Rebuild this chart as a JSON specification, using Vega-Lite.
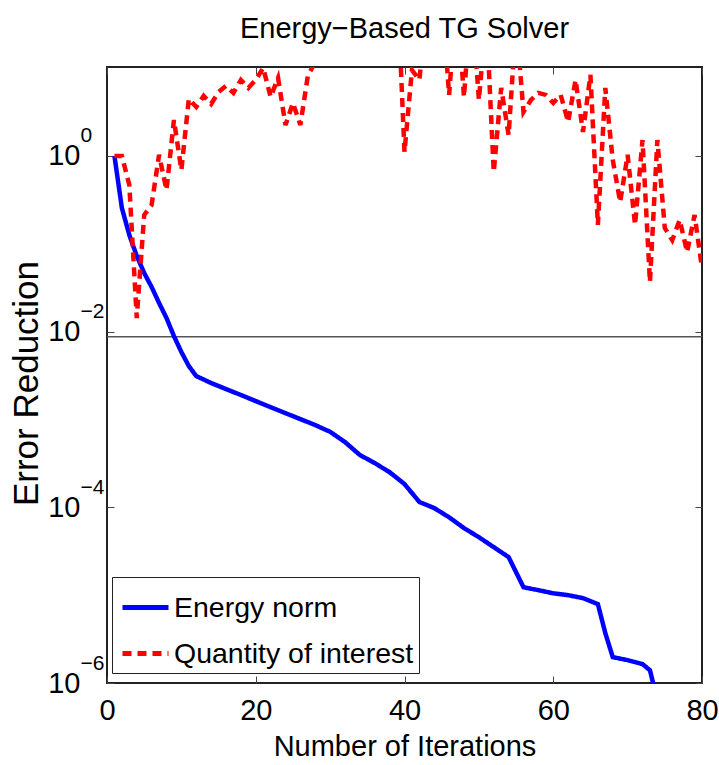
{
  "$schema": "https://vega.github.io/schema/vega-lite/v6.json",
  "width": 595,
  "height": 616,
  "autosize": {"type": "none"},
  "padding": {"left": 107, "top": 67, "right": 17, "bottom": 82},
  "background": "white",
  "title": {
    "text": "Energy−Based TG Solver",
    "font": "Liberation Sans, Arial, sans-serif",
    "fontSize": 29,
    "fontWeight": "normal",
    "color": "black",
    "anchor": "middle",
    "baseline": "alphabetic",
    "offset": 30,
    "dy": 30
  },
  "datasets": {
    "thr": [{"err": 0.00875}],
    "energy": [
      {"iter": 1, "err": 1.0, "series": "Energy norm"},
      {"iter": 2, "err": 0.256, "series": "Energy norm"},
      {"iter": 3, "err": 0.126, "series": "Energy norm"},
      {"iter": 4, "err": 0.0727, "series": "Energy norm"},
      {"iter": 5, "err": 0.0465, "series": "Energy norm"},
      {"iter": 6, "err": 0.0322, "series": "Energy norm"},
      {"iter": 7, "err": 0.0212, "series": "Energy norm"},
      {"iter": 8, "err": 0.0143, "series": "Energy norm"},
      {"iter": 9, "err": 0.0089, "series": "Energy norm"},
      {"iter": 10, "err": 0.00586, "series": "Energy norm"},
      {"iter": 11, "err": 0.00406, "series": "Energy norm"},
      {"iter": 12, "err": 0.00312, "series": "Energy norm"},
      {"iter": 14, "err": 0.0026, "series": "Energy norm"},
      {"iter": 16, "err": 0.00222, "series": "Energy norm"},
      {"iter": 18, "err": 0.0019, "series": "Energy norm"},
      {"iter": 20, "err": 0.00162, "series": "Energy norm"},
      {"iter": 22, "err": 0.00138, "series": "Energy norm"},
      {"iter": 24, "err": 0.00118, "series": "Energy norm"},
      {"iter": 26, "err": 0.00101, "series": "Energy norm"},
      {"iter": 28, "err": 0.000863, "series": "Energy norm"},
      {"iter": 30, "err": 0.000724, "series": "Energy norm"},
      {"iter": 32, "err": 0.000553, "series": "Energy norm"},
      {"iter": 34, "err": 0.000394, "series": "Energy norm"},
      {"iter": 36, "err": 0.000319, "series": "Energy norm"},
      {"iter": 38, "err": 0.000251, "series": "Energy norm"},
      {"iter": 40, "err": 0.000184, "series": "Energy norm"},
      {"iter": 42, "err": 0.000115, "series": "Energy norm"},
      {"iter": 44, "err": 0.000098, "series": "Energy norm"},
      {"iter": 46, "err": 0.000077, "series": "Energy norm"},
      {"iter": 48, "err": 0.000058, "series": "Energy norm"},
      {"iter": 50, "err": 0.0000457, "series": "Energy norm"},
      {"iter": 52, "err": 0.0000352, "series": "Energy norm"},
      {"iter": 54, "err": 0.0000271, "series": "Energy norm"},
      {"iter": 56, "err": 0.0000123, "series": "Energy norm"},
      {"iter": 58, "err": 0.0000114, "series": "Energy norm"},
      {"iter": 60, "err": 0.0000105, "series": "Energy norm"},
      {"iter": 62, "err": 0.00001, "series": "Energy norm"},
      {"iter": 64, "err": 0.00000925, "series": "Energy norm"},
      {"iter": 66, "err": 0.0000079, "series": "Energy norm"},
      {"iter": 67, "err": 0.0000037, "series": "Energy norm"},
      {"iter": 68, "err": 0.00000197, "series": "Energy norm"},
      {"iter": 70, "err": 0.00000182, "series": "Energy norm"},
      {"iter": 72, "err": 0.00000164, "series": "Energy norm"},
      {"iter": 73, "err": 0.0000014, "series": "Energy norm"},
      {"iter": 74, "err": 0.00000063, "series": "Energy norm"}
    ],
    "qoi": [
      {"iter": 1, "err": 1.0, "series": "Quantity of interest"},
      {"iter": 2, "err": 1.0, "series": "Quantity of interest"},
      {"iter": 3, "err": 0.468, "series": "Quantity of interest"},
      {"iter": 4, "err": 0.0143, "series": "Quantity of interest"},
      {"iter": 5, "err": 0.213, "series": "Quantity of interest"},
      {"iter": 6, "err": 0.277, "series": "Quantity of interest"},
      {"iter": 7, "err": 1.03, "series": "Quantity of interest"},
      {"iter": 8, "err": 0.41, "series": "Quantity of interest"},
      {"iter": 9, "err": 2.57, "series": "Quantity of interest"},
      {"iter": 10, "err": 0.693, "series": "Quantity of interest"},
      {"iter": 11, "err": 4.46, "series": "Quantity of interest"},
      {"iter": 12, "err": 3.61, "series": "Quantity of interest"},
      {"iter": 13, "err": 4.82, "series": "Quantity of interest"},
      {"iter": 14, "err": 3.91, "series": "Quantity of interest"},
      {"iter": 15, "err": 5.36, "series": "Quantity of interest"},
      {"iter": 16, "err": 6.27, "series": "Quantity of interest"},
      {"iter": 17, "err": 5.22, "series": "Quantity of interest"},
      {"iter": 18, "err": 7.34, "series": "Quantity of interest"},
      {"iter": 19, "err": 5.95, "series": "Quantity of interest"},
      {"iter": 20, "err": 7.34, "series": "Quantity of interest"},
      {"iter": 21, "err": 10.05, "series": "Quantity of interest"},
      {"iter": 22, "err": 4.7, "series": "Quantity of interest"},
      {"iter": 23, "err": 7.73, "series": "Quantity of interest"},
      {"iter": 24, "err": 2.25, "series": "Quantity of interest"},
      {"iter": 25, "err": 4.01, "series": "Quantity of interest"},
      {"iter": 26, "err": 2.25, "series": "Quantity of interest"},
      {"iter": 27, "err": 8.15, "series": "Quantity of interest"},
      {"iter": 28, "err": 11.8, "series": "Quantity of interest"},
      {"iter": 29, "err": 30, "series": "Quantity of interest"},
      {"iter": 30, "err": 45, "series": "Quantity of interest"},
      {"iter": 31, "err": 35, "series": "Quantity of interest"},
      {"iter": 32, "err": 50, "series": "Quantity of interest"},
      {"iter": 33, "err": 60, "series": "Quantity of interest"},
      {"iter": 34, "err": 40, "series": "Quantity of interest"},
      {"iter": 35, "err": 55, "series": "Quantity of interest"},
      {"iter": 36, "err": 45, "series": "Quantity of interest"},
      {"iter": 37, "err": 60, "series": "Quantity of interest"},
      {"iter": 38, "err": 70, "series": "Quantity of interest"},
      {"iter": 39, "err": 100, "series": "Quantity of interest"},
      {"iter": 40, "err": 1.11, "series": "Quantity of interest"},
      {"iter": 41, "err": 9.5, "series": "Quantity of interest"},
      {"iter": 42, "err": 7.34, "series": "Quantity of interest"},
      {"iter": 43, "err": 50, "series": "Quantity of interest"},
      {"iter": 44, "err": 50, "series": "Quantity of interest"},
      {"iter": 45, "err": 70, "series": "Quantity of interest"},
      {"iter": 46, "err": 4.95, "series": "Quantity of interest"},
      {"iter": 47, "err": 70, "series": "Quantity of interest"},
      {"iter": 48, "err": 4.7, "series": "Quantity of interest"},
      {"iter": 49, "err": 70, "series": "Quantity of interest"},
      {"iter": 50, "err": 4.34, "series": "Quantity of interest"},
      {"iter": 51, "err": 40, "series": "Quantity of interest"},
      {"iter": 52, "err": 0.657, "series": "Quantity of interest"},
      {"iter": 53, "err": 5.95, "series": "Quantity of interest"},
      {"iter": 54, "err": 1.73, "series": "Quantity of interest"},
      {"iter": 55, "err": 35, "series": "Quantity of interest"},
      {"iter": 56, "err": 3.17, "series": "Quantity of interest"},
      {"iter": 57, "err": 4.34, "series": "Quantity of interest"},
      {"iter": 58, "err": 5.22, "series": "Quantity of interest"},
      {"iter": 59, "err": 4.95, "series": "Quantity of interest"},
      {"iter": 60, "err": 4.01, "series": "Quantity of interest"},
      {"iter": 61, "err": 4.95, "series": "Quantity of interest"},
      {"iter": 62, "err": 2.44, "series": "Quantity of interest"},
      {"iter": 63, "err": 7.34, "series": "Quantity of interest"},
      {"iter": 64, "err": 1.88, "series": "Quantity of interest"},
      {"iter": 65, "err": 8.37, "series": "Quantity of interest"},
      {"iter": 66, "err": 0.164, "series": "Quantity of interest"},
      {"iter": 67, "err": 5.95, "series": "Quantity of interest"},
      {"iter": 68, "err": 0.9, "series": "Quantity of interest"},
      {"iter": 69, "err": 0.299, "series": "Quantity of interest"},
      {"iter": 70, "err": 1.03, "series": "Quantity of interest"},
      {"iter": 71, "err": 0.164, "series": "Quantity of interest"},
      {"iter": 72, "err": 1.52, "series": "Quantity of interest"},
      {"iter": 73, "err": 0.0367, "series": "Quantity of interest"},
      {"iter": 74, "err": 1.52, "series": "Quantity of interest"},
      {"iter": 75, "err": 0.151, "series": "Quantity of interest"},
      {"iter": 76, "err": 0.11, "series": "Quantity of interest"},
      {"iter": 77, "err": 0.187, "series": "Quantity of interest"},
      {"iter": 78, "err": 0.0806, "series": "Quantity of interest"},
      {"iter": 79, "err": 0.213, "series": "Quantity of interest"},
      {"iter": 80, "err": 0.053, "series": "Quantity of interest"}
    ]
  },
  "layer": [
    {
      "data": {"name": "thr"},
      "mark": {"type": "rule", "color": "#555555", "strokeWidth": 1.5},
      "encoding": {
        "y": {
          "field": "err",
          "type": "quantitative",
          "scale": {"type": "log", "domain": [0.000001, 10.3], "nice": false},
          "axis": {
            "orient": "left",
            "values": [0.000001, 0.0001, 0.01, 1],
            "labelExpr": "datum.value > 0.5 ? '0' : datum.value < 0.00001 ? '−6' : datum.value < 0.001 ? '−4' : '−2'",
            "ticks": false,
            "tickSize": 0,
            "domain": false,
            "labelPadding": 27,
            "labelAlign": "left",
            "labelBaseline": "middle",
            "labelFontSize": 21,
            "labelOffset": -20,
            "labelOverlap": false,
            "title": null
          }
        }
      }
    },
    {
      "data": {"name": "energy"},
      "mark": {"type": "line", "clip": true, "strokeWidth": 4.5},
      "encoding": {
        "x": {
          "field": "iter",
          "type": "quantitative",
          "scale": {"domain": [0, 80], "nice": false},
          "axis": {
            "orient": "bottom",
            "values": [0, 20, 40, 60, 80],
            "format": "d",
            "tickSize": -7,
            "labelPadding": 20,
            "labelFlush": false,
            "labelOverlap": false,
            "title": "Number of Iterations",
            "titlePadding": 7
          }
        },
        "y": {
          "field": "err",
          "type": "quantitative",
          "scale": {"type": "log", "domain": [0.000001, 10.3], "nice": false},
          "axis": {
            "orient": "left",
            "values": [0.000001, 0.0001, 0.01, 1],
            "labelExpr": "'10'",
            "tickSize": -7,
            "labelPadding": 34,
            "labelBaseline": "middle",
            "labelOverlap": false,
            "title": "Error Reduction",
            "titleFontSize": 35,
            "titlePadding": 3,
            "titleY": 316
          }
        },
        "color": {
          "field": "series",
          "type": "nominal",
          "scale": {"domain": ["Energy norm", "Quantity of interest"], "range": ["#0000ff", "#ff0000"]},
          "legend": {"title": null}
        },
        "strokeDash": {
          "field": "series",
          "type": "nominal",
          "scale": {"domain": ["Energy norm", "Quantity of interest"], "range": [[1, 0], [9, 6]]},
          "legend": {"title": null}
        }
      }
    },
    {
      "data": {"name": "qoi"},
      "mark": {"type": "line", "clip": true, "strokeWidth": 4.5},
      "encoding": {
        "x": {
          "field": "iter",
          "type": "quantitative",
          "scale": {"domain": [0, 80], "nice": false},
          "axis": {
            "orient": "top",
            "values": [0, 20, 40, 60, 80],
            "labels": false,
            "tickSize": -7,
            "title": null
          }
        },
        "y": {
          "field": "err",
          "type": "quantitative",
          "scale": {"type": "log", "domain": [0.000001, 10.3], "nice": false},
          "axis": {
            "orient": "right",
            "values": [0.000001, 0.0001, 0.01, 1],
            "labels": false,
            "tickSize": -7,
            "title": null
          }
        },
        "color": {
          "field": "series",
          "type": "nominal",
          "scale": {"domain": ["Energy norm", "Quantity of interest"], "range": ["#0000ff", "#ff0000"]},
          "legend": {"title": null}
        },
        "strokeDash": {
          "field": "series",
          "type": "nominal",
          "scale": {"domain": ["Energy norm", "Quantity of interest"], "range": [[1, 0], [9, 6]]},
          "legend": {"title": null}
        }
      }
    }
  ],
  "resolve": {"axis": {"x": "independent", "y": "independent"}},
  "config": {
    "view": {"stroke": "#222222", "strokeWidth": 2},
    "axis": {
      "grid": false,
      "domain": false,
      "tickColor": "#444444",
      "tickWidth": 1,
      "labelFont": "Liberation Sans, Arial, sans-serif",
      "labelFontSize": 29,
      "labelColor": "black",
      "titleFont": "Liberation Sans, Arial, sans-serif",
      "titleFontSize": 29,
      "titleFontWeight": "normal",
      "titleColor": "black"
    },
    "legend": {
      "orient": "none",
      "legendX": 5,
      "legendY": 510,
      "direction": "vertical",
      "labelFont": "Liberation Sans, Arial, sans-serif",
      "labelFontSize": 28.5,
      "labelColor": "black",
      "labelLimit": 400,
      "labelOffset": 3,
      "symbolType": "stroke",
      "symbolSize": 2116,
      "symbolStrokeWidth": 5,
      "symbolOffset": 3,
      "strokeColor": "#222222",
      "fillColor": "white",
      "padding": 5,
      "rowPadding": 6
    }
  }
}
